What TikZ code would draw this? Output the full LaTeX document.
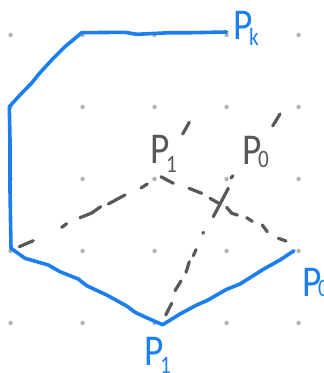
\documentclass[tikz,border=0pt]{standalone}
\usepackage{fontspec}
\setmainfont{Carlito}
\usepackage{tikz}
\definecolor{hullblue}{HTML}{1C7FF0}
\definecolor{probegray}{HTML}{585858}
% how far the index drops, then the index
\newcommand{\handlab}[2]{\scalebox{0.85}[1]{P\kern-4pt\raisebox{#1}{\fontsize{25}{25}\selectfont #2}}}

\begin{document}
\begin{tikzpicture}[
    x=1pt, y=-1pt,
    griddot/.style={circle, fill=black!30, inner sep=0pt, minimum size=4.5pt},
    hull/.style={draw=hullblue, line width=3.6pt, line cap=round, line join=round},
    probe/.style={draw=probegray, line width=3.2pt, line cap=round, line join=round},
    handlabel/.style={anchor=base west, inner sep=0pt, font=\fontsize{44}{44}\selectfont},
]
    \useasboundingbox (0,0) rectangle (324,373);
    \clip (0,0) rectangle (324,373);

    % Dot grid
    \foreach \x in {10.5,82.5,154.5,226.5,298.5}
        \foreach \y in {35,107,179,251,323}
            \node[griddot] at (\x,\y) {};

    % Dashed rays
    \draw[probe] (19.3,246.7) -- (33.3,240.7);
    \draw[probe] (61.7,227.3) -- (66.7,223.7);
    \draw[probe] (80,217.7) -- (91.7,213) -- (100.7,206.7);
    \draw[probe] (108.3,204) -- (125,195);
    \draw[probe] (141,188) -- (147.3,184);
    \draw[probe] (161,176.7) -- (173.3,183.3);
    \draw[probe] (189,188.3) -- (201.7,193.3);
    \draw[probe] (210,198.3) -- (220,204);
    \draw[probe] (226.7,207.3) -- (231.7,213.3) -- (237.3,215);
    \draw[probe] (246.7,217.7) -- (252.3,221.3);
    \draw[probe] (262.3,225) -- (267.3,231.7);
    \draw[probe] (278.3,238.3) -- (286,241);
    \draw[probe] (165.7,315) -- (171.7,303.3);
    \draw[probe] (175,290.7) -- (181,281);
    \draw[probe] (186,272.3) -- (189.3,261.7);
    \draw[probe] (193.3,255.7) -- (196,249.7);
    \draw[probe] (203,233.3) -- (203.4,232.3);
    \draw[probe] (213.3,216.7) -- (220,204) -- (228.3,188.3);
    \draw[probe] (231,178) -- (233,175.8);
    \draw[probe] (272.7,126) -- (280,114);
    \draw[probe] (182.7,134) -- (189.3,122.3);

    % Hull
    \draw[hull] (226.7,32) -- (191.7,32.7) -- (170,32.7) -- (136.7,34.3) -- (125,32.3) -- (81.7,32.7)
        -- (65,46.7) -- (53.3,58.3) -- (40,72.7) -- (31.7,83) -- (20,95) -- (9.3,106.7)
        -- (10,140) -- (10,190) -- (11,248.3) -- (25,258.3) -- (48.3,265) -- (60,271.7)
        -- (78.3,279) -- (86.7,285.7) -- (106.7,295) -- (126.7,306) -- (135,312.3)
        -- (146.7,317.7) -- (162.7,324.7) -- (180,314) -- (196.7,305) -- (206.7,300.7)
        -- (226.7,289.3) -- (240,284) -- (263.3,269.3) -- (280,260) -- (294,250.7);

    % Labels
    \node[handlabel, text=hullblue] (pk) at (233,39) {\handlab{-6pt}{k}};
    \node[handlabel, text=probegray] (pone) at (150,163) {\handlab{-9pt}{1}};
    \node[handlabel, text=probegray] (pzero) at (242,164) {\handlab{-3pt}{0}};
    \node[handlabel, text=hullblue] (bzero) at (302,296) {\handlab{0pt}{0}};
    \node[handlabel, text=hullblue] (bone) at (144,365) {\handlab{-8pt}{1}};
\end{tikzpicture}
\end{document}
